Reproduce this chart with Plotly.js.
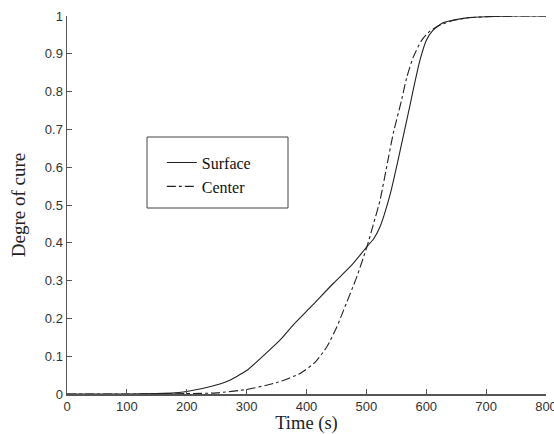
<!DOCTYPE html>
<html>
<head>
<meta charset="utf-8">
<script src="https://cdn.plot.ly/plotly-3.0.1.min.js"></script>
<style>html,body{margin:0;padding:0;background:#fff;}#chart{width:554px;height:434px;}</style>
</head>
<body>
<div id="chart"></div>
<script>
const surfaceTime = [0, 100, 150, 180, 211, 240, 267, 300, 334, 356, 378, 410, 445, 475, 501, 512, 523, 530, 540, 551, 562, 573, 581, 589, 600, 611, 628, 645, 668, 700, 750, 800];
const surfaceCure = [0, 0, 0.001, 0.003, 0.01, 0.02, 0.033, 0.062, 0.11, 0.143, 0.183, 0.235, 0.293, 0.34, 0.39, 0.41, 0.443, 0.475, 0.53, 0.605, 0.685, 0.765, 0.825, 0.88, 0.935, 0.962, 0.982, 0.989, 0.995, 0.998, 1.0, 1.0];
const centerTime = [0, 100, 200, 250, 300, 350, 390, 415, 434, 450, 462, 484, 501, 511, 523, 534, 545, 559, 567, 578, 592, 606, 624, 645, 668, 700, 750, 800];
const centerCure = [0, 0, 0.001, 0.003, 0.012, 0.03, 0.055, 0.085, 0.125, 0.175, 0.222, 0.31, 0.39, 0.445, 0.514, 0.602, 0.69, 0.779, 0.835, 0.89, 0.935, 0.96, 0.977, 0.988, 0.995, 0.998, 1.0, 1.0];
const xTicks = [0, 100, 200, 300, 400, 500, 600, 700, 800];
const yTicks = [0, 0.1, 0.2, 0.3, 0.4, 0.5, 0.6, 0.7, 0.8, 0.9, 1];
const yTickText = ['0', '0.1', '0.2', '0.3', '0.4', '0.5', '0.6', '0.7', '0.8', '0.9', '1'];

const traces = [
  {x: surfaceTime, y: surfaceCure, name: 'Surface', mode: 'lines',
   line: {color: '#222', width: 1.1, shape: 'spline', smoothing: 0.6}},
  {x: centerTime, y: centerCure, name: 'Center', mode: 'lines',
   line: {color: '#222', width: 1.1, dash: 'dashdot', shape: 'spline', smoothing: 0.6}}
];

const layout = {
  width: 554, height: 434,
  margin: {l: 67, r: 8, t: 16, b: 40},
  paper_bgcolor: '#fff', plot_bgcolor: '#fff',
  showlegend: true,
  legend: {x: 0.198, y: 0.657, xanchor: 'left', yanchor: 'top',
    bgcolor: 'rgba(0,0,0,0)', borderwidth: 0,
    font: {family: 'Liberation Serif, Times New Roman, serif', size: 16, color: '#111'},
    tracegroupgap: 0},
  xaxis: {range: [0, 800], tickvals: xTicks, ticktext: xTicks.map(String),
    ticks: 'inside', ticklen: 5, tickcolor: '#555', tickwidth: 1,
    ticklabeloverflow: 'allow',
    showline: true, linecolor: '#555', linewidth: 1.5, mirror: false,
    showgrid: false, zeroline: false,
    tickfont: {family: 'Liberation Sans, Arial, sans-serif', size: 13, color: '#333'},
    title: {text: 'Time (s)', standoff: 4,
      font: {family: 'Liberation Serif, Times New Roman, serif', size: 18.5, color: '#222'}}},
  yaxis: {range: [0, 1], tickvals: yTicks, ticktext: yTickText,
    ticks: 'inside', ticklen: 5, tickcolor: '#555', tickwidth: 1,
    showline: true, linecolor: '#555', linewidth: 1.5, mirror: false,
    showgrid: false, zeroline: false,
    tickfont: {family: 'Liberation Sans, Arial, sans-serif', size: 13, color: '#333'},
    title: {text: 'Degre of cure', standoff: 14,
      font: {family: 'Liberation Serif, Times New Roman, serif', size: 19, color: '#222'}}},
  shapes: [{type: 'rect', xref: 'paper', yref: 'paper',
    x0: (147 - 67) / 479, x1: (288 - 67) / 479,
    y0: (394 - 208) / 378, y1: (394 - 137) / 378,
    line: {color: '#444', width: 1}, fillcolor: 'rgba(0,0,0,0)'}]
};

Plotly.newPlot('chart', traces, layout, {displayModeBar: false, staticPlot: true});
</script>
</body>
</html>
